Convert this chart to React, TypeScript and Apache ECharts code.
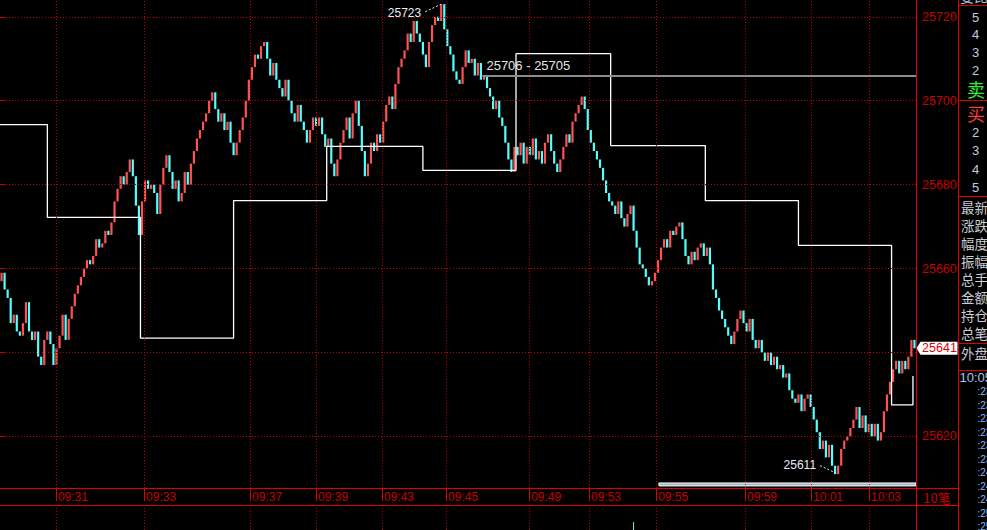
import React, { useEffect, useRef } from 'react';
import * as echarts from 'echarts';

// ---- data ----
const firstOpen = 25657;
const closes = [
  25659, 25655, 25653, 25647, 25649, 25645, 25644, 25647, 25652, 25645,
  25643, 25645, 25639, 25637, 25643, 25645, 25642, 25637, 25641, 25644,
  25649, 25643, 25648, 25651, 25654, 25656, 25658, 25660, 25662, 25661,
  25663, 25667, 25665, 25666, 25669, 25668, 25671, 25676, 25679, 25682,
  25680, 25683, 25686, 25682, 25675, 25668, 25676, 25681, 25679, 25680,
  25678, 25673, 25680, 25684, 25687, 25683, 25679, 25681, 25676, 25678,
  25683, 25680, 25685, 25688, 25691, 25693, 25695, 25697, 25700, 25702,
  25698, 25695, 25697, 25693, 25695, 25690, 25687, 25690, 25693, 25696,
  25700, 25705, 25708, 25711, 25710, 25713, 25714, 25710, 25706, 25709,
  25705, 25703, 25701, 25705, 25700, 25697, 25695, 25699, 25695, 25693,
  25690, 25693, 25696, 25694, 25696, 25692, 25689, 25691, 25685, 25682,
  25686, 25690, 25693, 25696, 25691, 25697, 25700, 25694, 25688, 25682,
  25685, 25690, 25688, 25692, 25690, 25695, 25699, 25701, 25698, 25704,
  25708, 25710, 25712, 25716, 25714, 25719, 25716, 25714, 25711, 25708,
  25714, 25718, 25720, 25719, 25723, 25717, 25713, 25711, 25707, 25705,
  25704, 25708, 25712, 25709, 25710, 25706, 25709, 25705, 25706, 25703,
  25701, 25698, 25700, 25696, 25694, 25690, 25686, 25683, 25689, 25687,
  25690, 25685, 25689, 25687, 25691, 25686, 25688, 25685, 25690, 25692,
  25688, 25685, 25683, 25686, 25689, 25692, 25690, 25695, 25697, 25699,
  25701, 25698, 25693, 25690, 25688, 25686, 25684, 25681, 25678, 25676,
  25675, 25673, 25676, 25672, 25670, 25673, 25675, 25669, 25665, 25661,
  25660, 25658, 25656, 25657, 25659, 25662, 25665, 25667, 25665, 25669,
  25668, 25670, 25671, 25667, 25663, 25661, 25664, 25662, 25665, 25666,
  25663, 25665, 25661, 25655, 25653, 25650, 25648, 25646, 25644, 25642,
  25645, 25648, 25650, 25647, 25645, 25648, 25643, 25641, 25643, 25640,
  25638, 25640, 25637, 25639, 25636, 25637, 25634, 25635, 25631, 25629,
  25628, 25630, 25626, 25629, 25630, 25627, 25624, 25621, 25617, 25619,
  25615, 25618, 25613, 25611, 25613, 25617, 25619, 25620, 25622, 25624,
  25627, 25622, 25625, 25621, 25623, 25620, 25623, 25619, 25621, 25626,
  25630, 25633, 25636, 25638, 25635, 25638, 25636, 25639, 25643, 25641,
];
const barCount = 300;

const timeIdx = [18.3, 47.2, 81.9, 103.5, 125.1, 146.1, 173.3, 192.9, 214.9, 244, 265.6, 284.6];
const timeLabels = ['09:31', '09:33', '09:37', '09:39', '09:43', '09:45', '09:49', '09:53', '09:55', '09:59', '10:01', '10:03'];

const priceTicks = [25620, 25640, 25660, 25680, 25700, 25720];
const priceLabels = [25620, 25660, 25680, 25700, 25720];
const priceMin = 25607.7;
const priceMax = 25724;

const stepX = [0, 15.5, 46, 76.5, 107, 138.5, 169, 200, 231, 261.5, 292, 299];
const stepY = [25694.3, 25672.2, 25643.4, 25676.2, 25689.1, 25683.4, 25711.2, 25689.3, 25676.2, 25665.5, 25627.5, 25634.4];

const refLineStart = 158;
const refLinePrice = 25706;
const refLineText = '25706 - 25705';

const bandStart = 215.8;
const bandLow = 25608.2;
const bandHigh = 25608.9;

const volumeIdx = [207.5];
const volumeVal = [8];

const askLevels = ['5', '4', '3', '2'];
const bidLevels = ['2', '3', '4', '5'];
const infoLabels = ['最新', '涨跌', '幅度', '振幅', '总手', '金额', '持仓', '总笔'];
const tradeTimes = [':23', ':23', ':23', ':23', ':23', ':23', ':24', ':24', ':24', ':25', ':25'];
const barUnitLabel = '10笔';
const lastTime = '10:05';

// ---- styles ----
const UP = '#ff5252';
const DOWN = '#54ffff';
const FRAME = '#e00000';
const AXIS_TEXT = '#c80000';
const DOT = '#c00000';
const LATIN = '"Liberation Sans", Arial, sans-serif';
const CJK = '"Noto Sans CJK SC", sans-serif';

function buildOption() {
  const candles = closes.map((c, i) => [i, i === 0 ? firstOpen : closes[i - 1], c]);
  const lastPrice = closes[closes.length - 1];
  let maxI = 0, minI = 0;
  closes.forEach((c, i) => {
    if (c > closes[maxI]) maxI = i;
    if (c < closes[minI]) minI = i;
  });
  const extremes = [[maxI + 0.5, closes[maxI], 0], [minI + 0.5, closes[minI], 1]];

  const gl: any[] = [];
  const line = (x1: number, y1: number, x2: number, y2: number, color = FRAME) =>
    gl.push({ type: 'line', silent: true, shape: { x1, y1, x2, y2 }, style: { stroke: color, lineWidth: 1 }, z: 100 });
  const text = (x: number, y: number, t: string, fill: string, size: number, family: string, align = 'left') =>
    gl.push({
      type: 'text', silent: true, x, y, z: 100,
      style: {
        text: t, fill, fontSize: size, fontFamily: family, lineHeight: size,
        textAlign: align, align, textVerticalAlign: 'middle', verticalAlign: 'middle',
      },
    });

  line(916.5, 0, 916.5, 530);
  line(958.5, 0, 958.5, 530);
  line(0, 488.5, 958, 488.5);
  line(0, 505.5, 958, 505.5);
  [5.5, 100.5, 196.5, 343.5, 370.5].forEach((y) => line(958, y, 987, y));

  text(937, 497, barUnitLabel, AXIS_TEXT, 13, CJK, 'center');
  text(960, -4, '委比', '#a8bcd8', 14, CJK);
  askLevels.forEach((t, k) => text(975.5, 17 + k * 17.7, t, '#c0cce0', 13, LATIN, 'center'));
  text(976, 89, '卖', '#33ee33', 18, CJK, 'center');
  text(976, 113, '买', '#ff3a3a', 18, CJK, 'center');
  bidLevels.forEach((t, k) => text(975.5, 132 + k * 18.5, t, '#c0cce0', 13, LATIN, 'center'));
  infoLabels.forEach((t, k) => text(961, 206.5 + k * 18.1, t, '#c8ccd4', 13.5, CJK));
  text(961, 353, '外盘', '#c8ccd4', 13.5, CJK);
  text(959.5, 377, lastTime, '#a8c4e8', 13, LATIN);
  tradeTimes.forEach((t, k) => text(977.5, 391.7 + k * 13.5, t, '#8cb8f0', 10, LATIN));

  return {
    animation: false,
    backgroundColor: '#000',
    grid: [
      { left: 0, top: 0, width: 916, height: 488, outerBoundsMode: 'none', containLabel: false },
      { left: 0, top: 505, width: 916, height: 25, outerBoundsMode: 'none', containLabel: false },
    ],
    xAxis: [
      {
        type: 'value', gridIndex: 0, min: 0, max: barCount,
        axisLine: { show: false }, splitLine: { show: false },
        axisTick: { show: true, length: 13, lineStyle: { color: FRAME, width: 1 }, customValues: timeIdx },
        axisLabel: {
          show: true, customValues: timeIdx, align: 'left', margin: 3,
          color: AXIS_TEXT, fontSize: 12, fontFamily: LATIN, padding: [0, 0, 0, 2],
          formatter: (v: number) => {
            const k = timeIdx.findIndex((t) => Math.abs(t - v) < 1e-6);
            return k >= 0 ? timeLabels[k] : '';
          },
        },
      },
      { type: 'value', gridIndex: 1, min: 0, max: barCount, show: false },
    ],
    yAxis: [
      {
        type: 'value', gridIndex: 0, position: 'right', min: priceMin, max: priceMax,
        axisLine: { show: false }, splitLine: { show: false },
        axisTick: { show: true, length: 5, lineStyle: { color: FRAME }, customValues: priceTicks },
        axisLabel: {
          show: true, customValues: priceLabels, margin: 6, color: AXIS_TEXT,
          fontSize: 12.5, fontFamily: LATIN, formatter: (v: number) => String(v),
        },
      },
      { type: 'value', gridIndex: 1, min: 0, max: 25, show: false },
    ],
    series: [
      {
        name: 'grid', type: 'line', xAxisIndex: 0, yAxisIndex: 0, data: [], z: 1, silent: true,
        markLine: {
          silent: true, symbol: ['none', 'none'], label: { show: false }, animation: false,
          lineStyle: { color: DOT, type: [1, 2], width: 1 },
          data: [...priceTicks.map((v) => ({ yAxis: v })), ...timeIdx.map((v) => ({ xAxis: v }))],
        },
      },
      {
        name: 'ref', type: 'line', xAxisIndex: 0, yAxisIndex: 0, data: [], z: 1, silent: true,
        markLine: {
          silent: true, symbol: ['none', 'none'], animation: false,
          lineStyle: { color: '#8c8c8c', type: 'solid', width: 2 },
          label: {
            show: true, position: 'insideStartTop', formatter: refLineText, distance: 4,
            color: '#e4e4e4', fontSize: 13, fontFamily: LATIN,
          },
          data: [[{ coord: [refLineStart, refLinePrice] }, { coord: [barCount, refLinePrice] }]],
        },
      },
      {
        name: 'candles', type: 'custom', xAxisIndex: 0, yAxisIndex: 0, z: 2, silent: true,
        encode: { x: 0, y: [1, 2] },
        data: candles,
        renderItem: (params: any, api: any) => {
          const i = api.value(0);
          const o = api.value(1);
          const c = api.value(2);
          const top = api.coord([i + 0.5, Math.max(o, c)]);
          const bot = api.coord([i + 0.5, Math.min(o, c)]);
          const band = api.size([1, 0])[0];
          const w = Math.max(1, band * 0.72);
          const h = Math.max(1, bot[1] - top[1]);
          return {
            type: 'rect',
            shape: { x: top[0] - w / 2, y: top[1], width: w, height: h },
            style: { fill: c >= o ? UP : DOWN },
          };
        },
      },
      {
        name: 'step', type: 'line', xAxisIndex: 0, yAxisIndex: 0, z: 3, silent: true,
        step: 'end', symbol: 'none', showSymbol: false,
        lineStyle: { color: '#ffffff', width: 1.3 },
        data: stepX.map((x, k) => [x, stepY[k]]),
        markArea: {
          silent: true,
          itemStyle: { color: '#a9b3c6', borderColor: '#ffffff', borderWidth: 1 },
          data: [[{ coord: [bandStart, bandLow] }, { coord: [barCount, bandHigh] }]],
        },
      },
      {
        name: 'extremes', type: 'custom', xAxisIndex: 0, yAxisIndex: 0, z: 4, silent: true, clip: false,
        data: extremes,
        renderItem: (params: any, api: any) => {
          const p = api.coord([api.value(0), api.value(1)]);
          const isMin = api.value(2) === 1;
          const v = String(api.value(1));
          const tx = isMin ? p[0] - 19 : p[0] - 20;
          const ty = isMin ? p[1] - 9.5 : p[1] + 8.5;
          const lx = isMin ? p[0] - 15 : p[0] - 16;
          const ly = isMin ? p[1] - 8.5 : p[1] + 7.5;
          const ex = isMin ? p[0] + 1 : p[0];
          const ey = isMin ? p[1] - 1 : p[1];
          return {
            type: 'group',
            children: [
              {
                type: 'line', shape: { x1: lx, y1: ly, x2: ex, y2: ey },
                style: { stroke: '#e8eef8', lineWidth: 1, lineDash: [2, 2] },
              },
              {
                type: 'text',
                style: {
                  text: v, x: tx, y: ty, fill: '#e8eef8', font: `12px ${LATIN}`,
                  textAlign: 'right', align: 'right', textVerticalAlign: 'middle', verticalAlign: 'middle',
                },
              },
            ],
          };
        },
      },
      {
        name: 'lastTag', type: 'custom', xAxisIndex: 0, yAxisIndex: 0, z: 5, silent: true, clip: false,
        data: [[barCount, lastPrice]],
        renderItem: (params: any, api: any) => {
          const p = api.coord([api.value(0), api.value(1)]);
          const x = p[0] + 0.5;
          const y = p[1];
          return {
            type: 'group',
            children: [
              {
                type: 'polygon',
                shape: { points: [[x, y], [x + 4, y - 6.5], [x + 41, y - 6.5], [x + 41, y + 6.5], [x + 4, y + 6.5]] },
                style: { fill: '#ffffff' },
              },
              {
                type: 'text',
                style: {
                  text: String(api.value(1)), x: x + 23, y: y, fill: '#e00000', font: `12.5px ${LATIN}`,
                  textAlign: 'center', align: 'center', textVerticalAlign: 'middle', verticalAlign: 'middle',
                },
              },
            ],
          };
        },
      },
      {
        name: 'volume', type: 'bar', xAxisIndex: 1, yAxisIndex: 1, z: 2, silent: true,
        barWidth: 1, itemStyle: { color: DOWN },
        data: volumeIdx.map((x, k) => [x, volumeVal[k]]),
        markLine: {
          silent: true, symbol: ['none', 'none'], label: { show: false }, animation: false,
          lineStyle: { color: DOT, type: [1, 2], width: 1 },
          data: timeIdx.map((v) => ({ xAxis: v })),
        },
      },
    ],
    graphic: { elements: gl },
  };
}

export default function App() {
  const ref = useRef<HTMLDivElement>(null);
  useEffect(() => {
    document.body.style.margin = '0';
    document.body.style.background = '#000';
    const chart = echarts.init(ref.current as HTMLDivElement, undefined, { renderer: 'svg' });
    chart.setOption(buildOption() as any);
    return () => chart.dispose();
  }, []);
  return (
    <div
      ref={ref}
      style={{ position: 'fixed', left: 0, top: 0, width: 987, height: 530, background: '#000' }}
    />
  );
}
